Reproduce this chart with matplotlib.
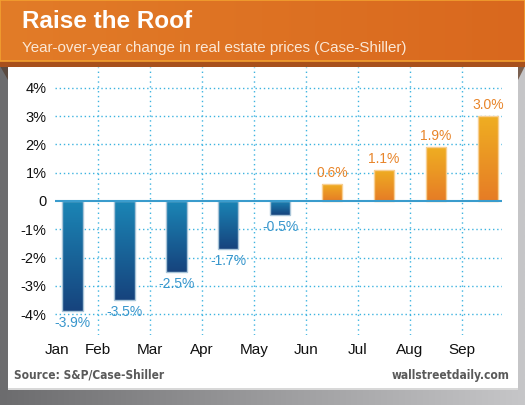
import numpy as np
import matplotlib
matplotlib.use("Agg")
import matplotlib.pyplot as plt
from matplotlib.patches import Rectangle, Polygon
from matplotlib.colors import LinearSegmentedColormap

months = ["Jan", "Feb", "Mar", "Apr", "May", "Jun", "Jul", "Aug", "Sep"]
values = [-3.9, -3.5, -2.5, -1.7, -0.5, 0.6, 1.1, 1.9, 3.0]
value_labels = ["-3.9%", "-3.5%", "-2.5%", "-1.7%", "-0.5%", "0.6%", "1.1%", "1.9%", "3.0%"]
yticks = [-4, -3, -2, -1, 0, 1, 2, 3, 4]
ytick_labels = ["-4%", "-3%", "-2%", "-1%", "0", "1%", "2%", "3%", "4%"]

title = "Raise the Roof"
subtitle = "Year-over-year change in real estate prices (Case-Shiller)"
source = "Source: S&P/Case-Shiller"
brand = "wallstreetdaily.com"

W, H = 525, 405
fig = plt.figure(figsize=(W / 100, H / 100), dpi=100)

# background / frame axes in pixel coordinates
bg = fig.add_axes([0, 0, 1, 1])
bg.set_xlim(0, W)
bg.set_ylim(H, 0)
bg.axis("off")
gray = LinearSegmentedColormap.from_list("g", ["#6c6c6e", "#9a9a9c", "#c6c6c8"])
bg.imshow(np.linspace(0, 1, 256).reshape(1, -1), cmap=gray, aspect="auto",
          extent=(0, W, H, 0), zorder=0)
# white panel
bg.add_patch(Rectangle((8, 66), 510, 323, facecolor="white", edgecolor="none", zorder=1))
bg.add_patch(Rectangle((8, 388), 510, 2, facecolor="#d8d8d8", edgecolor="none", zorder=1))
# ribbon folds
bg.add_patch(Polygon([(0, 66), (8, 66), (8, 80)], closed=True, facecolor="#5a4a40", edgecolor="none", zorder=2))
bg.add_patch(Polygon([(518, 66), (525, 66), (518, 80)], closed=True, facecolor="#7a6050", edgecolor="none", zorder=2))
# header
orange = LinearSegmentedColormap.from_list("o", ["#e27c28", "#d9681e"])
bg.imshow(np.linspace(0, 1, 256).reshape(1, -1), cmap=orange, aspect="auto",
          extent=(0, W, 61, 0), zorder=3)
bg.add_patch(Rectangle((0, 0), W, 61, facecolor="none", edgecolor="#f2a030", linewidth=1.2, zorder=4))
bg.add_patch(Rectangle((0, 61), W, 6, facecolor="#a8501c", edgecolor="none", zorder=3))
bg.set_xlim(0, W)
bg.set_ylim(H, 0)

bg.text(22, 28, title, color="white", fontsize=17.5, fontweight="bold",
        family="Liberation Sans", va="baseline", ha="left", zorder=5)
bg.text(22, 52, subtitle, color="#fbe8d6", fontsize=10.9,
        family="Liberation Sans", va="baseline", ha="left", zorder=5)
bg.text(14, 379, source, color="#5a5a5a", fontsize=8.6, fontweight="bold",
        family="DejaVu Sans", fontstretch="condensed", va="baseline", ha="left", zorder=5)
bg.text(509, 379, brand, color="#5a5a5a", fontsize=8.6, fontweight="bold",
        family="DejaVu Sans", fontstretch="condensed", va="baseline", ha="right", zorder=5)

# main chart axes
x0, x1, ytop, ybot = 55, 502, 67, 335
ax = fig.add_axes([x0 / W, (H - ybot) / H, (x1 - x0) / W, (ybot - ytop) / H])
ax.patch.set_alpha(0)
for s in ax.spines.values():
    s.set_visible(False)

grid_c = "#3db3e0"
for yv in yticks:
    if yv != 0:
        ax.axhline(yv, color=grid_c, lw=1.0, ls=(0, (1, 2)), zorder=1)
for xv in range(1, 9):
    ax.axvline(xv, color=grid_c, lw=1.0, ls=(0, (1, 2.5)), zorder=1)

pos = np.arange(len(months)) + 0.5
bars = ax.bar(pos, values, width=0.4, zorder=2, facecolor="none", edgecolor="none")
neg_cmap = LinearSegmentedColormap.from_list("n", ["#1b86b6", "#16437d"])
pos_cmap = LinearSegmentedColormap.from_list("p", ["#efae22", "#e67c26"])
grad = np.linspace(0, 1, 256).reshape(-1, 1)
for b, v in zip(bars, values):
    bx, by = b.get_x(), b.get_y()
    bw, bh = b.get_width(), b.get_height()
    top = max(by, by + bh)
    bot = min(by, by + bh)
    cm = neg_cmap if v < 0 else pos_cmap
    im = ax.imshow(grad, cmap=cm, aspect="auto", extent=(bx, bx + bw, bot, top),
                   origin="upper", zorder=2)
    im.set_clip_path(b)
    ec = "#a8c4d8" if v < 0 else "#f8cf92"
    ax.add_patch(Rectangle((bx, bot), bw, top - bot, facecolor="none", edgecolor=ec,
                           lw=1.0, zorder=3))

ax.axhline(0, color="#3a9ccd", lw=1.5, zorder=4, xmax=1.0)

for p, v, lab in zip(pos, values, value_labels):
    if v < 0:
        ax.annotate(lab, (p, v), xytext=(0, -3.5), textcoords="offset points",
                    ha="center", va="top", color="#3896cc", fontsize=10,
                    family="Liberation Sans", zorder=5)
    else:
        ax.annotate(lab, (p, v), xytext=(0, 3), textcoords="offset points",
                    ha="center", va="bottom", color="#e8852a", fontsize=10,
                    family="Liberation Sans", zorder=5)

ax.set_yticks(yticks)
ax.set_yticklabels(ytick_labels, fontsize=10.5, family="Liberation Sans", color="#111111")
ax.tick_params(axis="y", length=0, pad=6)
xt = [0.2] + list(range(1, 9))
ax.set_xticks(xt)
ax.set_xticklabels(months, fontsize=11, family="Liberation Sans", color="#111111")
ax.tick_params(axis="x", length=0, pad=6)
ax.set_xlim(0.17, 8.77)
ax.set_ylim(-4.73, 4.73)

fig.savefig("out.png", dpi=100)
